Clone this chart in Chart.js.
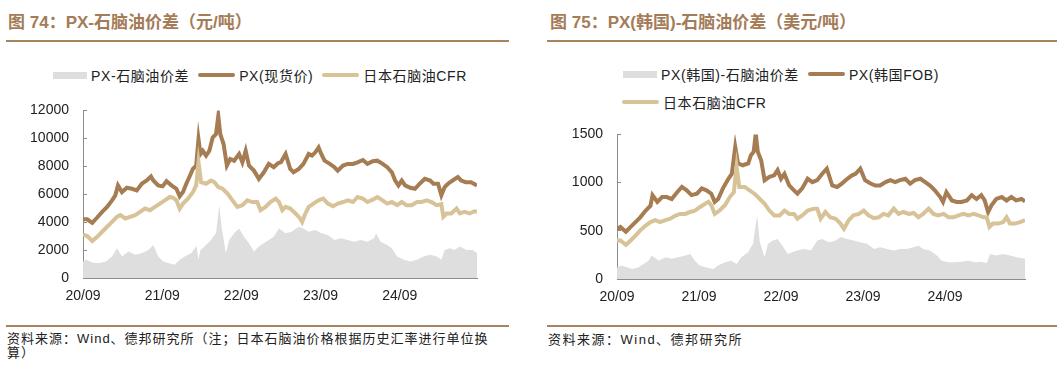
<!DOCTYPE html>
<html>
<head>
<meta charset="utf-8">
<script src="https://cdn.jsdelivr.net/npm/chart.js@4.4.1/dist/chart.umd.min.js"></script>
<style>
    body { margin: 0; width: 1063px; height: 372px; background: #fff; position: relative; overflow: hidden;
           font-family: "Liberation Sans", "Noto Sans CJK SC", sans-serif; }
    .title { position: absolute; top: 12px; font-size: 17px; line-height: 21px; font-weight: bold; color: #A47C58; white-space: nowrap; }
    .rule { position: absolute; height: 2px; background: #A8835F; }
    .legend { position: absolute; display: flex; align-items: center; height: 18px; font-size: 14px; letter-spacing: 0.6px; color: #222; white-space: nowrap; }
    .item { display: flex; align-items: center; margin-right: 9px; }
    .sw { display: inline-block; margin-right: 4px; }
    .box { width: 34px; height: 7px; }
    .line { width: 37px; height: 4px; border-radius: 2px; }
    .src { position: absolute; font-size: 13px; line-height: 14px; letter-spacing: 1px; color: #222; white-space: nowrap; }
    .wrap { position: absolute; }
</style>
</head>
<body>

<div class="title" style="left:8px">图 74：PX-石脑油价差（元/吨）</div>
<div class="title" style="left:550px">图 75：PX(韩国)-石脑油价差（美元/吨）</div>
<div class="rule" style="left:6px;top:40px;width:503px"></div>
<div class="rule" style="left:547px;top:40px;width:510px"></div>

<div class="legend" id="legendCn" style="left:53px;top:66px"></div>
<div class="legend" id="legendKr1" style="left:623px;top:65px"></div>
<div class="legend" id="legendKr2" style="left:622px;top:93px"></div>

<div class="wrap" style="left:0;top:84px"><canvas id="chartCn" width="500" height="225"></canvas></div>
<div class="wrap" style="left:540px;top:108px"><canvas id="chartKr" width="510" height="202"></canvas></div>

<div class="rule" style="left:6px;top:325px;width:503px"></div>
<div class="rule" style="left:547px;top:325px;width:510px"></div>
<div class="src" style="left:7px;top:332px">资料来源：Wind、德邦研究所（注；日本石脑油价格根据历史汇率进行单位换<br>算）</div>
<div class="src" style="left:548px;top:333px;letter-spacing:1.5px">资料来源：Wind、德邦研究所</div>

<script>
// Colours
const GREY = '#DEDEDE';
const BROWN = '#A67C52';
const TAN = '#D8C398';
const AXIS = '#8C8C8C';

// X axis: months since 2020-09
const tickMonths = [0, 12, 24, 36, 48];
const tickLabels = ['20/09', '21/09', '22/09', '23/09', '24/09'];
const lastMonth = 59.7;

// 图74 (元/吨)  [month, value]
const cnSpread = [[0,1180],[0.5,1300],[1.5,1100],[2.5,1070],[3.5,1180],[4.4,1540],[5.15,2130],[5.9,1540],[6.9,1890],[7.9,1660],[8.9,1780],[9.9,2010],[10.65,2370],[11.4,1540],[12.15,1180],[12.9,1070],[13.9,950],[14.65,1300],[15.4,1540],[16.4,1780],[17.2,2300],[17.5,1300],[17.8,2000],[18.4,2250],[19.4,2720],[20.15,3200],[20.65,5210],[21.0,3670],[21.65,1780],[22.15,2720],[22.9,3200],[23.65,3550],[24.4,2960],[25.15,2490],[25.9,1890],[26.65,2250],[27.4,2490],[28.15,2720],[28.9,2960],[29.7,3550],[30.7,3200],[31.6,3310],[32.7,3670],[33.4,3550],[34.2,3310],[35.2,3430],[36.1,3200],[37.1,3080],[38.1,2720],[39.1,2840],[40.1,2720],[41.1,2600],[42.1,2720],[43.1,2600],[44.1,2840],[44.4,3200],[45.1,2600],[46.1,2370],[46.8,2130],[47.6,1540],[48.6,1300],[49.6,1180],[50.6,1300],[51.6,1540],[52.6,1660],[53.6,1540],[54.3,1300],[54.8,2010],[55.6,2130],[56.3,2010],[57.1,2250],[58.1,2010],[59.1,2010],[59.7,1780]];
const cnPx = [[0,4200],[0.65,4200],[1.4,3950],[2.15,4330],[2.9,4730],[3.65,5090],[4.4,5560],[4.9,5920],[5.3,6630],[5.9,6150],[6.65,6460],[7.4,6390],[8.15,6270],[8.9,6750],[9.65,6980],[10.3,7270],[10.65,6980],[11.4,6630],[12.05,6560],[12.65,6930],[13.4,6630],[14.15,6390],[14.65,5850],[15.15,6150],[15.65,6750],[16.15,7270],[16.65,7810],[17.15,8050],[17.5,9940],[17.8,8880],[18.15,9110],[18.65,8760],[19.15,9110],[19.65,10060],[20.15,10300],[20.5,11600],[20.8,10300],[21.3,9590],[21.8,8050],[22.3,8520],[22.9,8400],[23.65,8880],[24.15,8280],[24.65,9110],[25.15,8050],[25.9,7690],[26.65,7100],[27.4,7570],[28.15,8170],[28.9,7930],[29.5,8200],[30.0,8300],[30.7,8880],[31.4,7810],[31.9,7570],[32.7,7810],[33.4,8170],[34.2,8880],[34.7,8760],[35.2,9000],[35.7,9350],[36.1,8880],[36.6,8400],[37.4,8170],[38.1,7930],[38.6,7690],[39.4,8050],[40.1,8170],[40.9,8170],[41.6,8280],[42.4,8450],[43.1,8170],[43.9,8360],[44.6,8400],[45.4,8170],[46.1,7930],[46.8,7570],[47.3,6980],[47.8,6630],[48.3,6980],[48.8,6630],[49.6,6460],[50.3,6390],[51.1,6790],[51.8,7100],[52.6,6980],[53.1,6750],[53.8,6750],[54.3,5920],[54.8,6510],[55.3,6750],[56.0,6980],[56.8,7220],[57.3,6980],[58.0,6860],[58.8,6860],[59.7,6630]];
const cnNaphtha = [[0,3100],[0.65,3000],[1.4,2650],[2.15,2950],[2.9,3310],[3.65,3670],[4.4,4020],[5.15,4380],[5.65,4500],[6.4,4260],[7.15,4380],[7.9,4500],[8.65,4730],[9.4,4970],[10.15,4850],[10.9,5090],[11.65,5330],[12.4,5560],[13.15,5800],[13.65,5750],[14.15,5560],[14.65,4970],[15.15,5330],[15.9,5680],[16.65,6150],[17.15,6630],[17.5,8280],[17.9,6860],[18.65,6750],[19.4,6980],[19.9,6860],[20.5,6510],[21.15,6390],[21.9,6040],[22.65,5560],[23.4,5090],[24.15,5210],[24.9,5560],[25.65,5440],[26.4,5440],[26.9,4850],[27.65,5090],[28.4,5440],[29.2,5680],[29.7,5440],[30.2,4850],[30.7,5090],[31.4,4970],[32.2,4620],[32.9,4260],[33.2,4020],[33.7,4620],[34.2,5090],[34.9,5330],[35.7,5560],[36.4,5680],[37.1,5330],[37.9,5140],[38.6,5330],[39.4,5440],[40.1,5560],[40.9,5440],[41.6,5800],[42.4,5680],[43.1,5440],[43.9,5610],[44.6,5800],[45.4,5560],[46.1,5330],[46.8,5440],[47.6,5210],[48.3,5440],[49.0,5210],[49.8,5210],[50.6,5440],[51.3,5440],[52.1,5560],[52.8,5440],[53.6,5210],[54.3,5280],[54.6,4380],[55.1,4620],[55.8,4620],[56.6,4970],[57.1,4620],[57.8,4730],[58.6,4620],[59.3,4780],[59.7,4750]];

// 图75 (美元/吨)  [month, value]
const krSpread = [[0,120],[0.7,140],[1.5,120],[2.2,105],[3.1,120],[4.6,190],[5.1,245],[6.1,190],[7.1,225],[8.0,210],[9.0,225],[10.0,245],[10.7,260],[11.4,190],[12.1,140],[13.1,120],[14.1,105],[14.8,140],[15.8,175],[16.7,190],[17.5,155],[18.2,225],[19.2,280],[19.9,365],[20.5,660],[20.9,380],[21.6,225],[22.1,365],[22.8,400],[23.5,415],[24.2,345],[25.0,260],[25.7,280],[26.4,295],[27.4,310],[28.4,295],[29.3,400],[30.0,415],[31.0,380],[32.0,400],[32.7,435],[33.7,415],[34.6,400],[35.6,380],[36.6,365],[37.6,310],[38.5,330],[39.5,310],[40.5,295],[41.4,310],[42.4,310],[43.4,330],[44.1,345],[44.8,310],[45.8,295],[46.8,245],[47.5,190],[48.5,175],[49.5,175],[50.4,180],[51.4,190],[52.4,175],[53.3,180],[54.1,165],[54.6,260],[55.5,245],[56.5,260],[57.5,245],[58.5,225],[59.7,210]];
const krPx = [[0,520],[0.5,540],[1.3,490],[2.0,540],[2.7,590],[3.4,640],[4.2,710],[4.9,760],[5.2,870],[5.9,800],[6.6,850],[7.3,850],[8.0,830],[8.8,900],[9.5,955],[10.2,920],[10.9,870],[11.7,885],[12.4,940],[13.1,920],[13.8,885],[14.3,800],[14.8,830],[15.5,940],[16.3,1040],[16.8,1090],[17.3,1370],[17.7,1200],[18.4,1180],[19.2,1200],[19.6,1285],[20.0,1320],[20.3,1510],[20.6,1320],[21.1,1230],[21.6,1025],[22.3,1060],[23.0,1075],[23.5,1130],[24.0,1040],[24.5,1090],[25.2,970],[25.9,920],[26.4,885],[27.1,940],[27.9,1040],[28.6,1005],[29.3,1025],[30.0,1090],[30.7,1145],[31.5,970],[32.2,955],[32.9,990],[33.7,1040],[34.4,1075],[34.9,1090],[35.6,1145],[36.3,1025],[37.1,990],[37.8,970],[38.5,970],[39.3,1005],[40.0,1025],[40.7,1005],[41.4,1025],[42.2,1040],[42.9,990],[43.6,1025],[44.4,1040],[45.1,1005],[45.8,970],[46.5,920],[47.3,850],[47.7,800],[48.2,900],[49.0,815],[49.7,800],[50.4,800],[51.2,815],[51.9,870],[52.6,830],[53.3,870],[53.8,815],[54.3,695],[54.8,765],[55.5,830],[56.3,850],[57.0,815],[57.7,850],[58.4,815],[59.2,830],[59.7,805]];
const krNaphtha = [[0,400],[0.5,400],[1.3,355],[2.0,400],[2.7,450],[3.4,505],[4.2,555],[4.9,590],[5.6,610],[6.3,590],[7.1,610],[7.8,625],[8.5,655],[9.2,675],[10.0,675],[10.7,695],[11.4,710],[12.1,745],[12.9,780],[13.4,800],[13.8,765],[14.3,675],[15.0,710],[15.8,765],[16.5,850],[17.1,900],[17.5,1165],[17.9,955],[18.7,955],[19.4,920],[20.1,885],[20.9,830],[21.6,780],[22.3,710],[23.0,660],[23.8,660],[24.5,710],[25.2,675],[25.9,675],[26.4,625],[27.1,660],[27.9,710],[28.8,730],[29.3,730],[29.8,625],[30.5,695],[31.2,640],[32.0,625],[32.7,575],[33.2,520],[33.9,610],[34.6,660],[35.4,675],[36.1,710],[36.8,660],[37.6,630],[38.3,640],[39.0,675],[39.7,660],[40.5,730],[41.2,675],[41.9,695],[42.7,675],[43.4,685],[44.1,640],[44.8,675],[45.6,730],[46.3,675],[47.0,660],[47.8,675],[48.5,640],[49.2,640],[50.0,660],[50.7,675],[51.4,660],[52.2,675],[52.9,660],[53.6,640],[54.1,640],[54.5,540],[55.0,575],[55.8,575],[56.5,590],[57.0,640],[57.5,575],[58.2,575],[59.0,590],[59.7,610]];

const cnNames = ['PX-石脑油价差', 'PX(现货价)', '日本石脑油CFR'];
const krNames = ['PX(韩国)-石脑油价差', 'PX(韩国FOB)', '日本石脑油CFR'];

const tickFont = { family: 'Liberation Sans', size: 14 };
const toXY = (pairs) => pairs.map(([x, y]) => ({ x, y }));

function makeChart(id, names, spread, px, naphtha, yMax, yStep, padding) {
    return new Chart(document.getElementById(id), {
        type: 'line',
        data: {
            datasets: [
                { label: names[0], data: toXY(spread), fill: 'origin', backgroundColor: GREY, borderWidth: 0, pointRadius: 0, tension: 0, order: 3 },
                { label: names[1], data: toXY(px), borderColor: BROWN, borderWidth: 4, pointRadius: 0, fill: false, tension: 0, order: 2 },
                { label: names[2], data: toXY(naphtha), borderColor: TAN, borderWidth: 4, pointRadius: 0, fill: false, tension: 0, order: 1 }
            ]
        },
        options: {
            responsive: false,
            animation: false,
            layout: { padding },
            plugins: { legend: { display: false }, tooltip: { enabled: false } },
            scales: {
                x: {
                    type: 'linear',
                    min: 0,
                    max: lastMonth,
                    afterBuildTicks: (s) => { s.ticks = tickMonths.map(v => ({ value: v })); },
                    afterFit: (s) => { s.height = 31; },
                    grid: { drawOnChartArea: false, tickLength: -4, color: AXIS },
                    border: { color: AXIS },
                    ticks: {
                        padding: 14, font: tickFont, color: '#222', maxRotation: 0, autoSkip: false,
                        callback: (v) => tickLabels[tickMonths.indexOf(v)] || ''
                    }
                },
                y: {
                    min: 0,
                    max: yMax,
                    afterFit: (s) => { s.width = 60; },
                    grid: { drawOnChartArea: false, tickLength: -4, color: AXIS },
                    border: { color: AXIS },
                    ticks: { stepSize: yStep, padding: 18, font: tickFont, color: '#222', callback: (v) => String(v) }
                }
            }
        }
    });
}

function buildLegend(el, items) {
    items.forEach(({ name, color, kind }) => {
        const it = document.createElement('span');
        it.className = 'item';
        const sw = document.createElement('span');
        sw.className = 'sw ' + kind;
        sw.style.background = color;
        it.appendChild(sw);
        it.appendChild(document.createTextNode(name));
        el.appendChild(it);
    });
}

// y-axis ticks add their own top padding (label half height + tick padding), so layout padding stays 0 at top
const chartCn = makeChart('chartCn', cnNames, cnSpread, cnPx, cnNaphtha, 12000, 2000, { left: 23, right: 23, top: 0, bottom: 0 });
const chartKr = makeChart('chartKr', krNames, krSpread, krPx, krNaphtha, 1500, 500, { left: 17, right: 25, top: 0, bottom: 0 });

buildLegend(document.getElementById('legendCn'), [
    { name: cnNames[0], color: GREY, kind: 'box' },
    { name: cnNames[1], color: BROWN, kind: 'line' },
    { name: cnNames[2], color: TAN, kind: 'line' }
]);
buildLegend(document.getElementById('legendKr1'), [
    { name: krNames[0], color: GREY, kind: 'box' },
    { name: krNames[1], color: BROWN, kind: 'line' }
]);
buildLegend(document.getElementById('legendKr2'), [
    { name: krNames[2], color: TAN, kind: 'line' }
]);
</script>
</body>
</html>
